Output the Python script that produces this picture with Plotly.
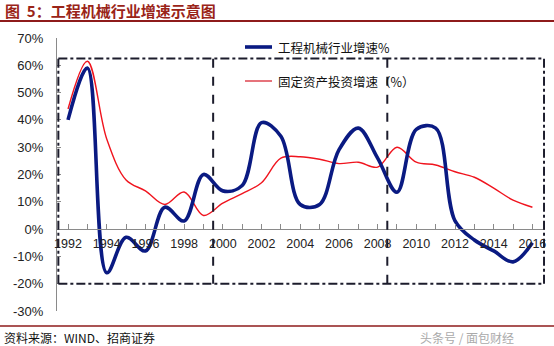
import plotly.graph_objects as go

years = list(range(1992, 2017))
machinery = [40, 59, -16, -3, -8, 8, 3, 20, 14, 16, 39, 34, 9, 9, 29, 37, 26, 13.5, 36.5, 37, 3, -4, -8, -12, -5]
fai = [44, 61.5, 33, 18, 14, 9, 13.6, 5, 9.5, 13, 17, 26, 26.5, 25.6, 24, 24.5, 22.7, 30, 24.5, 23.5, 21, 19, 15, 10.6, 8]

ytickvals = [-30, -20, -10, 0, 10, 20, 30, 40, 50, 60, 70]
yticktext = ["-30%", "-20%", "-10%", "0%", "10%", "20%", "30%", "40%", "50%", "60%", "70%"]
xtickvals = list(range(1992, 2017, 2))
xticktext = [str(y) for y in xtickvals]

name_machinery = "工程机械行业增速%"
name_fai = "固定资产投资增速（%）"
title_text = "图  5：工程机械行业增速示意图"
source_text = "资料来源：WIND、招商证券"
watermark = "头条号 / 面包财经"

# period boundaries (years) and box vertical extent (%)
periods = [1991.5, 1999.5, 2008.5, 2016.6]
box_top, box_bottom = 62.5, -20

W, H = 554, 346
ML, MR, MT, MB = 57, 9, 38, 35
xr = [1991.43, 2016.65]
yr = [-30, 70]

def px_x(p):
    return (p - ML) / (W - ML - MR)

def px_y(p):
    return 1 - (p - MT) / (H - MT - MB)

fig = go.Figure()
fig.add_trace(go.Scatter(x=years, y=fai, mode="lines", name=name_fai,
                         line=dict(color="#F0141E", width=1.4, shape="spline", smoothing=1.0)))
fig.add_trace(go.Scatter(x=years, y=machinery, mode="lines", name=name_machinery,
                         line=dict(color="#0A1A82", width=3.6, shape="spline", smoothing=1.0)))

dark = "#1C1C2C"
shapes = []
for yv in (box_top, box_bottom):
    shapes.append(dict(type="line", xref="x", yref="y", x0=periods[0], x1=periods[-1], y0=yv, y1=yv,
                       line=dict(color=dark, width=2, dash="dashdot")))
for xv in (periods[0], periods[-1]):
    shapes.append(dict(type="line", xref="x", yref="y", x0=xv, x1=xv, y0=box_bottom, y1=box_top,
                       line=dict(color=dark, width=2, dash="dashdot")))
for xv in periods[1:-1]:
    shapes.append(dict(type="line", xref="x", yref="y", x0=xv, x1=xv, y0=box_bottom, y1=box_top,
                       line=dict(color=dark, width=2, dash="dash")))

# legend samples
shapes.append(dict(type="line", xref="paper", yref="paper", x0=px_x(245), x1=px_x(272), y0=px_y(47), y1=px_y(47),
                   line=dict(color="#0A1A82", width=3.6)))
shapes.append(dict(type="line", xref="paper", yref="paper", x0=px_x(245), x1=px_x(272), y0=px_y(81), y1=px_y(81),
                   line=dict(color="#E0505A", width=1.6)))

# title & footer rules
red_rule = "#8E1B1B"
shapes.append(dict(type="line", xref="paper", yref="paper", x0=px_x(0), x1=px_x(W), y0=px_y(21), y1=px_y(21),
                   line=dict(color=red_rule, width=2)))
shapes.append(dict(type="line", xref="paper", yref="paper", x0=px_x(0), x1=px_x(W), y0=px_y(326), y1=px_y(326),
                   line=dict(color=red_rule, width=1.5)))

annotations = [
    dict(text=name_machinery, xref="paper", yref="paper", x=px_x(276), y=px_y(47), xanchor="left", yanchor="middle",
         showarrow=False, font=dict(size=12.5, color="#111", family="Noto Sans CJK SC")),
    dict(text=name_fai, xref="paper", yref="paper", x=px_x(276), y=px_y(81), xanchor="left", yanchor="middle",
         showarrow=False, font=dict(size=12.5, color="#111", family="Noto Sans CJK SC")),
    dict(text="<b>" + title_text + "</b>", xref="paper", yref="paper", x=px_x(3), y=px_y(11), xanchor="left",
         yanchor="middle", showarrow=False, font=dict(size=15, color="#9A2418", family="Noto Sans CJK SC")),
    dict(text=source_text, xref="paper", yref="paper", x=px_x(2), y=px_y(337), xanchor="left", yanchor="middle",
         showarrow=False, font=dict(size=12, color="#111", family="Noto Sans CJK SC")),
    dict(text=watermark, xref="paper", yref="paper", x=px_x(516), y=px_y(337), xanchor="right", yanchor="middle",
         showarrow=False, font=dict(size=12, color="#AAAAAA", family="Noto Sans CJK SC")),
]

fig.update_layout(
    width=W, height=H,
    margin=dict(l=ML, r=MR, t=MT, b=MB, pad=0),
    paper_bgcolor="white", plot_bgcolor="white",
    showlegend=False,
    shapes=shapes, annotations=annotations,
    font=dict(family="Liberation Sans, Arial", color="#222"),
    xaxis=dict(range=xr, anchor="free", position=(0 - yr[0]) / (yr[1] - yr[0]),
               tickvals=xtickvals, ticktext=xticktext, showgrid=False, zeroline=False,
               showline=True, linecolor="#8A8A8A", linewidth=1,
               ticks="inside", ticklen=5, tickcolor="#8A8A8A",
               minor=dict(dtick=1, ticks="inside", ticklen=5, tickcolor="#8A8A8A"),
               tickfont=dict(size=12.5, color="#222"), ticklabelstandoff=3),
    yaxis=dict(range=yr, tickvals=ytickvals, ticktext=yticktext, showgrid=False, zeroline=False,
               showline=True, linecolor="#8A8A8A", linewidth=1,
               ticks="inside", ticklen=4, tickcolor="#8A8A8A",
               tickfont=dict(size=13, color="#222"), ticklabelstandoff=10),
)

fig.write_html("out.html")
